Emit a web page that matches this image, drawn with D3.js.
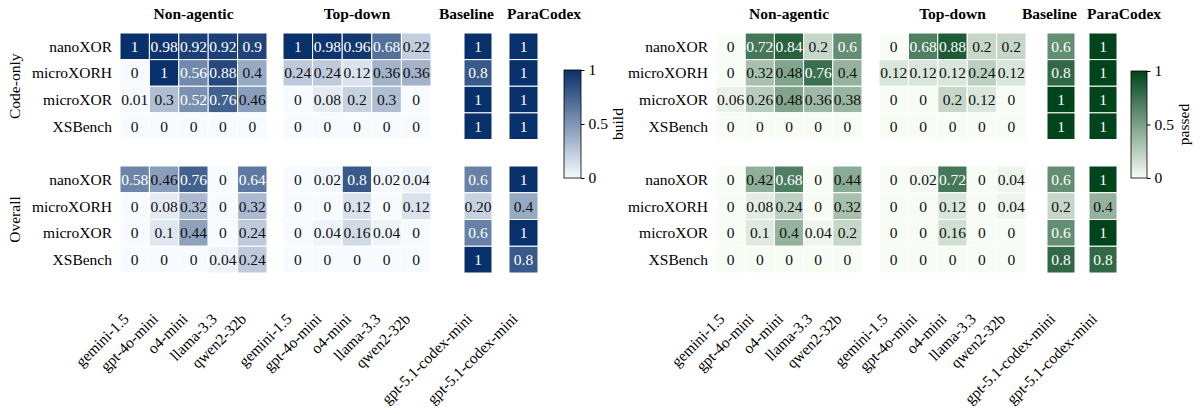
<!DOCTYPE html>
<html>
<head>
<meta charset="utf-8">
<script src="https://cdn.jsdelivr.net/npm/d3@7"></script>
<style>
  body { margin: 0; background: #fff; }
  svg { font-family: "Liberation Serif", "Times New Roman", Times, serif; }
</style>
</head>
<body>
<section></section>
<script>
// filas y columnas
var tareas = ["nanoXOR", "microXORH", "microXOR", "XSBench"]
var modelosNoAgente = ["gemini-1.5", "gpt-4o-mini", "o4-mini", "llama-3.3", "qwen2-32b"]
var modelosTopDown = ["gemini-1.5", "gpt-4o-mini", "o4-mini", "llama-3.3", "qwen2-32b"]
var modelosBaseline = ["gpt-5.1-codex-mini"]
var modelosParaCodex = ["gpt-5.1-codex-mini"]
var titulosGrupos = ["Non-agentic", "Top-down", "Baseline", "ParaCodex"]
var titulosBloques = ["Code-only", "Overall"]
var ticksBarra = [0, 0.5, 1]

// build - Code-only
var buildCodigoNoAgente = [[1, 0.98, 0.92, 0.92, 0.9], [0, 1, 0.56, 0.88, 0.4], [0.01, 0.3, 0.52, 0.76, 0.46], [0, 0, 0, 0, 0]]
var buildCodigoTopDown = [[1, 0.98, 0.96, 0.68, 0.22], [0.24, 0.24, 0.12, 0.36, 0.36], [0, 0.08, 0.2, 0.3, 0], [0, 0, 0, 0, 0]]
var buildCodigoBaseline = [[1], [0.8], [1], [1]]
var buildCodigoParaCodex = [[1], [1], [1], [1]]
// build - Overall
var buildTotalNoAgente = [[0.58, 0.46, 0.76, 0, 0.64], [0, 0.08, 0.32, 0, 0.32], [0, 0.1, 0.44, 0, 0.24], [0, 0, 0, 0.04, 0.24]]
var buildTotalTopDown = [[0, 0.02, 0.8, 0.02, 0.04], [0, 0, 0.12, 0, 0.12], [0, 0.04, 0.16, 0.04, 0], [0, 0, 0, 0, 0]]
var buildTotalBaseline = [[0.6], [0.2], [0.6], [1]]
var buildTotalBaselineEtiquetas = [["0.6"], ["0.20"], ["0.6"], ["1"]]
var buildTotalParaCodex = [[1], [0.4], [1], [0.8]]

// passed - Code-only
var pasaCodigoNoAgente = [[0, 0.72, 0.84, 0.2, 0.6], [0, 0.32, 0.48, 0.76, 0.4], [0.06, 0.26, 0.48, 0.36, 0.38], [0, 0, 0, 0, 0]]
var pasaCodigoTopDown = [[0, 0.68, 0.88, 0.2, 0.2], [0.12, 0.12, 0.12, 0.24, 0.12], [0, 0, 0.2, 0.12, 0], [0, 0, 0, 0, 0]]
var pasaCodigoBaseline = [[0.6], [0.8], [1], [1]]
var pasaCodigoParaCodex = [[1], [1], [1], [1]]
// passed - Overall
var pasaTotalNoAgente = [[0, 0.42, 0.68, 0, 0.44], [0, 0.08, 0.24, 0, 0.32], [0, 0.1, 0.4, 0.04, 0.2], [0, 0, 0, 0, 0]]
var pasaTotalTopDown = [[0, 0.02, 0.72, 0, 0.04], [0, 0, 0.12, 0, 0.04], [0, 0, 0.16, 0, 0], [0, 0, 0, 0, 0]]
var pasaTotalBaseline = [[0.6], [0.2], [0.6], [0.8]]
var pasaTotalParaCodex = [[1], [0.4], [1], [0.8]]

var width = 1200
var height = 414

var lienzosvg = d3.select("section")
    .append("svg")
    .attr("width", width)
    .attr("height", height)

var fuente = 15.5

// rangos verticales de los dos bloques
var bloquesY = [[33, 139.5], [166, 273]]

var paneles = [
    {
        metrica: "build",
        colores: ["#f7fbff", "#08306b"],
        gruposX: [[120, 267], [283, 431], [464, 492], [509, 538]],
        barra: { x: 564, ancho: 17, y0: 70, y1: 178 },
        etiquetasBloque: true,
        datos: [
            [buildCodigoNoAgente, buildCodigoTopDown, buildCodigoBaseline, buildCodigoParaCodex],
            [buildTotalNoAgente, buildTotalTopDown, buildTotalBaseline, buildTotalParaCodex]
        ],
        textos: { "1-2": buildTotalBaselineEtiquetas }
    },
    {
        metrica: "passed",
        colores: ["#f7fcf5", "#00441b"],
        gruposX: [[716, 862], [879, 1026], [1047, 1075], [1089, 1117]],
        barra: { x: 1131, ancho: 16, y0: 71, y1: 178 },
        etiquetasBloque: false,
        datos: [
            [pasaCodigoNoAgente, pasaCodigoTopDown, pasaCodigoBaseline, pasaCodigoParaCodex],
            [pasaTotalNoAgente, pasaTotalTopDown, pasaTotalBaseline, pasaTotalParaCodex]
        ],
        textos: {}
    }
]

var modelosPorGrupo = [modelosNoAgente, modelosTopDown, modelosBaseline, modelosParaCodex]

paneles.forEach(function (p) {
    var color = d3.scaleLinear().domain([0, 1]).range(p.colores).interpolate(d3.interpolateRgb)

    var escalasX = p.gruposX.map(function (r, g) {
        return d3.scaleBand().domain(modelosPorGrupo[g]).range(r)
    })
    var escalasY = bloquesY.map(function (r) {
        return d3.scaleBand().domain(tareas).range(r)
    })

    // titulos de grupo (los dos estrechos se apartan para no chocar)
    escalasX.forEach(function (ex, g) {
        var rango = ex.range()
        var x = (rango[0] + rango[1]) / 2
        var ancla = "middle"
        if (g == 2) { x = rango[1] + 2; ancla = "end" }
        if (g == 3) { x = rango[0] - 2; ancla = "start" }
        lienzosvg.append("text")
            .attr("x", x)
            .attr("y", 19)
            .attr("text-anchor", ancla)
            .attr("font-weight", "bold")
            .attr("font-size", fuente)
            .text(titulosGrupos[g])
    })

    // celdas
    p.datos.forEach(function (bloque, b) {
        var ey = escalasY[b]
        bloque.forEach(function (matriz, g) {
            var ex = escalasX[g]
            var etiquetas = p.textos[b + "-" + g]
            var celdas = []
            matriz.forEach(function (fila, i) {
                fila.forEach(function (v, j) {
                    celdas.push({
                        fila: tareas[i], modelo: modelosPorGrupo[g][j], v: v,
                        txt: etiquetas ? etiquetas[i][j] : String(v)
                    })
                })
            })
            var gr = lienzosvg.append("g")
            gr.selectAll("rect").data(celdas).enter().append("rect")
                .attr("x", function (d) { return ex(d.modelo) })
                .attr("y", function (d) { return ey(d.fila) })
                .attr("width", ex.bandwidth())
                .attr("height", ey.bandwidth())
                .attr("fill", function (d) { return color(d.v) })
                .attr("stroke", "#fff")
                .attr("stroke-width", 1)
            gr.selectAll("text").data(celdas).enter().append("text")
                .attr("x", function (d) { return ex(d.modelo) + ex.bandwidth() / 2 })
                .attr("y", function (d) { return ey(d.fila) + ey.bandwidth() / 2 })
                .attr("dy", "0.35em")
                .attr("text-anchor", "middle")
                .attr("font-size", fuente)
                .attr("fill", function (d) { return d.v > 0.5 ? "#fff" : "#111" })
                .text(function (d) { return d.txt })
        })

        // etiquetas de filas
        var x0 = escalasX[0].range()[0]
        lienzosvg.append("g").selectAll("text").data(tareas).enter().append("text")
            .attr("x", x0 - 8)
            .attr("y", function (d) { return ey(d) + ey.bandwidth() / 2 })
            .attr("dy", "0.35em")
            .attr("text-anchor", "end")
            .attr("font-size", fuente)
            .text(function (d) { return d })

        if (p.etiquetasBloque) {
            var r = ey.range()
            lienzosvg.append("text")
                .attr("transform", "translate(20," + ((r[0] + r[1]) / 2) + ") rotate(-90)")
                .attr("text-anchor", "middle")
                .attr("font-size", fuente)
                .text(titulosBloques[b])
        }
    })

    // etiquetas del eje X (debajo del bloque inferior)
    escalasX.forEach(function (ex) {
        lienzosvg.append("g").selectAll("text").data(ex.domain()).enter().append("text")
            .attr("transform", function (d) {
                return "translate(" + (ex(d) + ex.bandwidth() / 2 - 5) + ",320) rotate(-45)"
            })
            .attr("text-anchor", "end")
            .attr("font-size", fuente)
            .text(function (d) { return d })
    })

    // barra de color
    var bc = p.barra
    var idGrad = "grad-" + p.metrica
    var grad = lienzosvg.append("defs").append("linearGradient")
        .attr("id", idGrad)
        .attr("x1", 0).attr("y1", 1).attr("x2", 0).attr("y2", 0)
    grad.append("stop").attr("offset", "0%").attr("stop-color", p.colores[0])
    grad.append("stop").attr("offset", "100%").attr("stop-color", p.colores[1])

    lienzosvg.append("rect")
        .attr("x", bc.x).attr("y", bc.y0)
        .attr("width", bc.ancho).attr("height", bc.y1 - bc.y0)
        .attr("fill", "url(#" + idGrad + ")")
        .attr("stroke", "#000")
        .attr("stroke-width", 0.8)

    var escalaBarra = d3.scaleLinear().domain([0, 1]).range([bc.y1, bc.y0])
    var ejeBarra = d3.axisRight(escalaBarra)
        .tickValues(ticksBarra)
        .tickSize(3.5)
        .tickPadding(4)
        .tickFormat(function (d) { return String(d) })
    var gEje = lienzosvg.append("g")
        .attr("transform", "translate(" + (bc.x + bc.ancho) + ",0)")
        .call(ejeBarra)
    gEje.select(".domain").remove()
    gEje.selectAll("text")
        .attr("font-family", "'Liberation Serif', 'Times New Roman', serif")
        .attr("font-size", fuente)
        .attr("fill", "#000")
    gEje.selectAll("line").attr("stroke", "#000")

    lienzosvg.append("text")
        .attr("transform", "translate(" + (bc.x + bc.ancho + 42) + "," + ((bc.y0 + bc.y1) / 2) + ") rotate(-90)")
        .attr("text-anchor", "middle")
        .attr("font-size", fuente)
        .text(p.metrica)
})
</script>
</body>
</html>
